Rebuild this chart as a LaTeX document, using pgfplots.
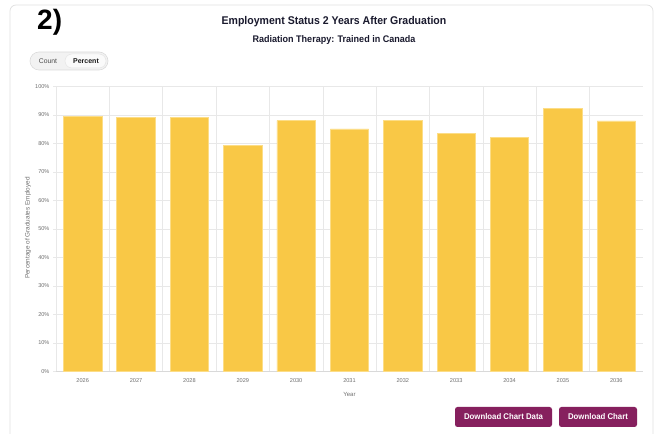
\documentclass[border=0pt]{standalone}
\usepackage{pgfplots}
\pgfplotsset{compat=1.18}
\usepackage{fontspec}
\setmainfont{Liberation Sans}
\newfontfamily\condfont[FakeStretch=0.94]{Liberation Sans}
\definecolor{barY}{HTML}{F9C846}
\definecolor{barE}{HTML}{FCDD87}
\definecolor{btn}{HTML}{86205E}
\definecolor{gridc}{HTML}{E8E8E8}
\definecolor{tickc}{HTML}{707070}
\definecolor{titlec}{HTML}{1A1A2E}
\begin{document}
\begin{tikzpicture}[x=1pt,y=1pt]
\useasboundingbox (0,0) rectangle (657,434);
\clip (0,0) rectangle (657,434);
\fill[white] (0,0) rectangle (657,434);
% card
\draw[draw=black!12, rounded corners=6pt, line width=0.7pt] (10,-10) rectangle (653,429);
% big label
\node[anchor=west, font=\bfseries\fontsize{28}{30}\selectfont, inner sep=0pt] at (37,412) {2)};
% title
\node[font=\condfont\bfseries\fontsize{11.2}{13}\selectfont, text=titlec] at (334,412) {Employment Status 2 Years After Graduation};
\node[font=\condfont\bfseries\fontsize{9.6}{11}\selectfont, text=titlec] at (334,394) {Radiation Therapy: Trained in Canada};
% toggle
\draw[fill=black!5, draw=black!14, rounded corners=9pt, line width=0.6pt] (30,364) rectangle (108,382);
\draw[fill=black!2, draw=black!10, rounded corners=7pt, line width=0.5pt] (65,366) rectangle (106,380);
\node[font=\fontsize{6.8}{8}\selectfont, text=black!70] at (48,373) {Count};
\node[font=\bfseries\fontsize{7}{8}\selectfont, text=black!90] at (86,373) {Percent};
% buttons
\fill[btn, rounded corners=2.5pt] (455,7) rectangle (552,27);
\node[font=\condfont\bfseries\fontsize{8.3}{9}\selectfont, text=white] at (503.5,17) {Download Chart Data};
\fill[btn, rounded corners=2.5pt] (559,7) rectangle (637,27);
\node[font=\condfont\bfseries\fontsize{8.3}{9}\selectfont, text=white] at (598,17) {Download Chart};
% y label
\node[rotate=90, font=\fontsize{6.4}{7}\selectfont, text=tickc] at (28,206) {Percentage of Graduates Employed};
\begin{axis}[
  at={(56pt,62.5pt)}, anchor=south west,
  scale only axis, width=587pt, height=285pt,
  xmin=-0.5, xmax=10.5, ymin=0, ymax=100,
  /pgf/number format/assume math mode=true,
  axis x line*=bottom, axis y line*=left,
  axis line style={-, draw=black!15, line width=0.5pt},
  xtick={0,...,10},
  xticklabels={2026,2027,2028,2029,2030,2031,2032,2033,2034,2035,2036},
  major x tick style={draw=none},
  extra x ticks={-0.5,0.5,1.5,2.5,3.5,4.5,5.5,6.5,7.5,8.5,9.5},
  extra x tick labels={},
  extra x tick style={grid=major, major tick length=4pt, tick align=outside, tick style={draw=gridc, line width=0.5pt}},
  ytick={0,10,...,100},
  yticklabel={\pgfmathprintnumber{\tick}\%},
  ymajorgrids,
  grid style={draw=gridc, line width=0.5pt},
  major y tick style={draw=gridc, line width=0.5pt},
  major tick length=3pt, tick align=outside,
  tick label style={font=\fontsize{5.6}{6.5}\selectfont, text=tickc},
  xticklabel style={yshift=-1pt},
  xlabel={Year},
  xlabel style={font=\fontsize{6}{7}\selectfont, text=tickc, yshift=4pt},
  ybar, bar width=38.4pt,
  clip=false,
]
\addplot[fill=barY, draw=barE, line width=0.7pt] coordinates {
(0,89.5) (1,89.2) (2,89.2) (3,79.2) (4,88.0) (5,85.1) (6,88.0) (7,83.6) (8,82.2) (9,92.4) (10,87.9)
};
\end{axis}
\end{tikzpicture}
\end{document}
